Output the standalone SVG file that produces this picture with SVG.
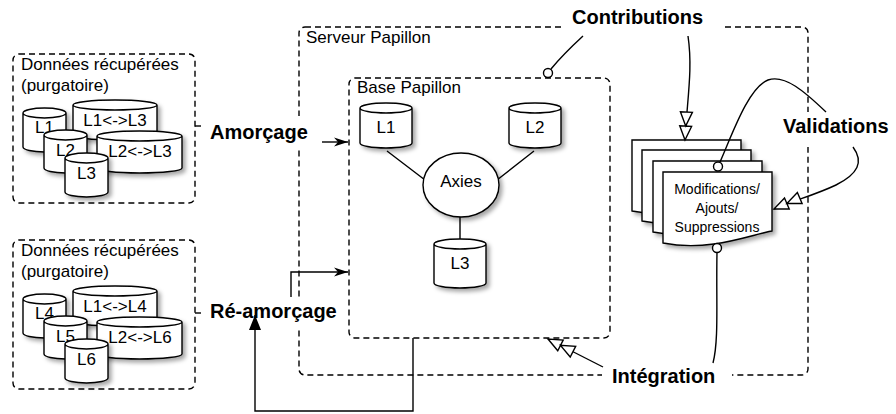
<svg xmlns="http://www.w3.org/2000/svg" xmlns:xlink="http://www.w3.org/1999/xlink" width="896" height="414" viewBox="0 0 896 414">
<defs>
<filter id="sh" x="-30%" y="-30%" width="170%" height="170%">
<feDropShadow dx="3" dy="3" stdDeviation="2" flood-color="#000" flood-opacity="0.35"/>
</filter>
<marker id="sharp" markerUnits="userSpaceOnUse" markerWidth="14" markerHeight="9" refX="14" refY="4.5" orient="auto" overflow="visible">
<path d="M0,0 L14,4.5 L0,9 L4,4.5 Z" fill="#000"/>
</marker>
<marker id="tri" markerUnits="userSpaceOnUse" markerWidth="15" markerHeight="12" refX="15" refY="6" orient="auto" overflow="visible">
<path d="M0,0 L15,6 L0,12 Z" fill="#000"/>
</marker>
<marker id="dbl" markerUnits="userSpaceOnUse" markerWidth="28" markerHeight="12" refX="28" refY="6" orient="auto" overflow="visible">
<path d="M0,0 L14,6 L0,12 Z M14,0 L28,6 L14,12 Z" fill="#fff" stroke="#000" stroke-width="1.4" stroke-linejoin="miter"/>
</marker>
<path id="page" d="M0,0 H109 V59 C87,63 47,80 0,71 Z"/>
</defs>
<style>
text{font-family:"Liberation Sans",Arial,Helvetica,sans-serif;fill:#000}
.t{font-size:17px}
.b{font-size:20px;font-weight:bold}
.s{font-size:14px}
.m{text-anchor:middle}
.box{fill:none;stroke:#000;stroke-width:1.4;stroke-dasharray:6,4}
.cyl{fill:#fff;stroke:#000;stroke-width:1.4;filter:url(#sh)}
.ln{fill:none;stroke:#000;stroke-width:1.4}
.bg{fill:#fff}
.ball{fill:#fff;stroke:#000;stroke-width:1.4}
</style>
<rect width="896" height="414" fill="#fff"/>

<g id="serveur">
<rect class="box" x="299" y="27" width="509" height="348" rx="6"/>
<text class="t" x="306" y="43">Serveur Papillon</text>
</g>

<g id="base">
<rect class="box" x="349" y="78" width="261" height="260" rx="6"/>
<text class="t" x="357" y="93">Base Papillon</text>
</g>

<g id="axies-links">
<path class="ln" d="M387,151 L425,180 M534,151 L497,180 M460,216 V240"/>
</g>
<g id="b-l1">
<path class="cyl" d="M360,108 V143 A26,5 0 0 0 412,143 V108 A26,5 0 0 0 360,108 Z M360,108 A26,5 0 0 0 412,108"/>
<text class="t m" x="386" y="133">L1</text>
</g>
<g id="b-l2">
<path class="cyl" d="M509,108 V143 A26,5 0 0 0 561,143 V108 A26,5 0 0 0 509,108 Z M509,108 A26,5 0 0 0 561,108"/>
<text class="t m" x="535" y="133">L2</text>
</g>
<g id="b-axies">
<ellipse cx="461" cy="185" rx="38" ry="32" fill="#fff" stroke="#000" stroke-width="1.4" filter="url(#sh)"/>
<text class="t m" x="461" y="187">Axies</text>
</g>
<g id="b-l3">
<path class="cyl" d="M434,244 V283 A26,5 0 0 0 486,283 V244 A26,5 0 0 0 434,244 Z M434,244 A26,5 0 0 0 486,244"/>
<text class="t m" x="460" y="269">L3</text>
</g>

<g id="purgatoire1">
<rect class="box" x="13" y="54" width="182" height="149" rx="6"/>
<text class="t" x="21" y="70">Données récupérées</text>
<text class="t" x="21" y="91">(purgatoire)</text>
<path class="cyl" d="M73,105 V135 A42,5 0 0 0 157,135 V105 A42,5 0 0 0 73,105 Z M73,105 A42,5 0 0 0 157,105"/>
<text class="t m" x="115" y="126">L1&lt;-&gt;L3</text>
<path class="cyl" d="M23,113 V147 A21.5,5 0 0 0 66,147 V113 A21.5,5 0 0 0 23,113 Z M23,113 A21.5,5 0 0 0 66,113"/>
<text class="t m" x="44.5" y="133">L1</text>
<path class="cyl" d="M97,136 V168 A42.5,5 0 0 0 182,168 V136 A42.5,5 0 0 0 97,136 Z M97,136 A42.5,5 0 0 0 182,136"/>
<text class="t m" x="140" y="157">L2&lt;-&gt;L3</text>
<path class="cyl" d="M44,135 V168 A21.5,5 0 0 0 87,168 V135 A21.5,5 0 0 0 44,135 Z M44,135 A21.5,5 0 0 0 87,135"/>
<text class="t m" x="65.5" y="156">L2</text>
<path class="cyl" d="M65,158 V192 A21.5,5 0 0 0 108,192 V158 A21.5,5 0 0 0 65,158 Z M65,158 A21.5,5 0 0 0 108,158"/>
<text class="t m" x="86.5" y="179">L3</text>
</g>

<g id="purgatoire2" transform="translate(0,186)">
<rect class="box" x="13" y="54" width="182" height="149" rx="6"/>
<text class="t" x="21" y="70">Données récupérées</text>
<text class="t" x="21" y="91">(purgatoire)</text>
<path class="cyl" d="M73,105 V135 A42,5 0 0 0 157,135 V105 A42,5 0 0 0 73,105 Z M73,105 A42,5 0 0 0 157,105"/>
<text class="t m" x="115" y="126">L1&lt;-&gt;L4</text>
<path class="cyl" d="M23,113 V147 A21.5,5 0 0 0 66,147 V113 A21.5,5 0 0 0 23,113 Z M23,113 A21.5,5 0 0 0 66,113"/>
<text class="t m" x="44.5" y="133">L4</text>
<path class="cyl" d="M97,136 V168 A42.5,5 0 0 0 182,168 V136 A42.5,5 0 0 0 97,136 Z M97,136 A42.5,5 0 0 0 182,136"/>
<text class="t m" x="140" y="157">L2&lt;-&gt;L6</text>
<path class="cyl" d="M44,135 V168 A21.5,5 0 0 0 87,168 V135 A21.5,5 0 0 0 44,135 Z M44,135 A21.5,5 0 0 0 87,135"/>
<text class="t m" x="65.5" y="156">L5</text>
<path class="cyl" d="M65,158 V192 A21.5,5 0 0 0 108,192 V158 A21.5,5 0 0 0 65,158 Z M65,158 A21.5,5 0 0 0 108,158"/>
<text class="t m" x="86.5" y="179">L6</text>
</g>

<g id="documents">
<use xlink:href="#page" href="#page" class="cyl" transform="translate(632,140)"/>
<use xlink:href="#page" href="#page" class="cyl" transform="translate(642,150)"/>
<use xlink:href="#page" href="#page" class="cyl" transform="translate(653,161)"/>
<use xlink:href="#page" href="#page" class="cyl" transform="translate(663,172)"/>
<text class="s m" x="717" y="194">Modifications/</text>
<text class="s m" x="717" y="213">Ajouts/</text>
<text class="s m" x="717" y="232">Suppressions</text>
</g>

<g id="amorcage">
<rect class="bg" x="201" y="116" width="121" height="34"/>
<text class="b" x="210" y="139">Amorçage</text>
</g>
<g id="reamorcage">
<rect class="bg" x="201" y="297" width="145" height="33"/>
<text class="b" x="210" y="318">Ré-amorçage</text>
</g>
<g id="contributions">
<rect class="bg" x="565" y="2" width="158" height="34"/>
<text class="b" x="572" y="24">Contributions</text>
</g>
<g id="validations">
<rect class="bg" x="780" y="112" width="114" height="35"/>
<text class="b" x="783" y="133">Validations</text>
</g>
<g id="integration">
<rect class="bg" x="602" y="363" width="130" height="30"/>
<text class="b" x="612" y="383">Intégration</text>
</g>

<g id="connectors">
<path class="ln" d="M195,126 H201"/>
<path class="ln" d="M322,142 H348" marker-end="url(#sharp)"/>
<path class="ln" d="M195,313 H201"/>
<path class="ln" d="M291,297 V272 H348" marker-end="url(#sharp)"/>
<path class="ln" d="M413,338 V411 H255 V315" marker-end="url(#tri)"/>
<path class="ln" d="M583,36 C570,48 560,58 551,69"/>
<circle class="ball" cx="548" cy="73" r="4.5"/>
<path class="ln" d="M688,36 C693,70 687,100 685,140" marker-end="url(#dbl)"/>
<path class="ln" d="M826,112 C805,92 785,74 768,80 C748,88 732,135 720,162"/>
<circle class="ball" cx="718" cy="166.5" r="4.5"/>
<path class="ln" d="M853,147 C864,162 858,174 836,185 C815,195 795,200 774,209" marker-end="url(#dbl)"/>
<path class="ln" d="M717,252.5 C716,300 719,340 713,363"/>
<circle class="ball" cx="717" cy="248" r="4.5"/>
<path class="ln" d="M603,367 L548,339" marker-end="url(#dbl)"/>
</g>
</svg>
